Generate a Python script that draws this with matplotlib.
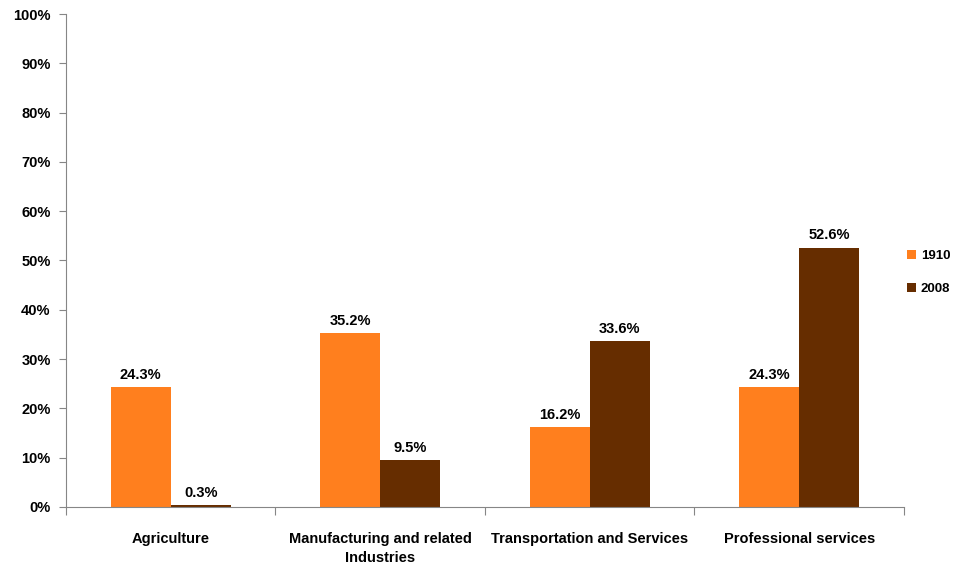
import numpy as np
import matplotlib.pyplot as plt
from matplotlib.ticker import PercentFormatter

categories = ['Agriculture', 'Manufacturing and related\nIndustries',
              'Transportation and Services', 'Professional services']
years = ['1910', '2008']
share_1910 = [24.3, 35.2, 16.2, 24.3]
share_2008 = [0.3, 9.5, 33.6, 52.6]
colors = ['#FF7F1E', '#662D00']

plt.rcParams['font.family'] = ['Liberation Sans', 'DejaVu Sans']
plt.rcParams['font.weight'] = 'bold'

fig = plt.figure(figsize=(9.59, 5.65), dpi=100)
ax = fig.add_axes([0.0688, 0.1027, 0.8738, 0.8725])

x = np.arange(len(categories))
w = 0.286
for k, (vals, lab) in enumerate(zip([share_1910, share_2008], years)):
    pos = x + (k - 0.5) * w
    bars = ax.bar(pos, vals, width=w, color=colors[k], label=lab, zorder=2)
    for b, v in zip(bars, vals):
        ax.annotate(f'{v:.1f}%', (b.get_x() + b.get_width() / 2, v),
                    xytext=(0, 4), textcoords='offset points',
                    ha='center', va='bottom', fontsize=10.5, fontweight='bold')

ax.set_xlim(-0.5, len(categories) - 0.5)
ax.set_ylim(0, 100)
ax.set_yticks(np.arange(0, 101, 10))
ax.yaxis.set_major_formatter(PercentFormatter(decimals=0))
ax.set_xticks(np.arange(-0.5, len(categories), 1))
ax.set_xticklabels([])
ax.set_xticks(x, minor=True)
ax.set_xticklabels(categories, minor=True, linespacing=1.5)
ax.tick_params(axis='x', which='minor', length=0, pad=18, labelsize=10.5)
ax.tick_params(axis='x', which='major', length=6, color='#868686')
ax.tick_params(axis='y', length=5, color='#868686', labelsize=10.5, pad=6)

for s in ['top', 'right']:
    ax.spines[s].set_visible(False)
for s in ['left', 'bottom']:
    ax.spines[s].set_color('#868686')

# legend sits in the narrow strip right of the plot
fig.legend(loc='center left', bbox_to_anchor=(0.9375, 0.518), frameon=False,
           fontsize=9.5, handlelength=0.7, handleheight=0.7,
           handletextpad=0.35, labelspacing=1.6, borderaxespad=0.2)

fig.savefig('out.png', dpi=100)
